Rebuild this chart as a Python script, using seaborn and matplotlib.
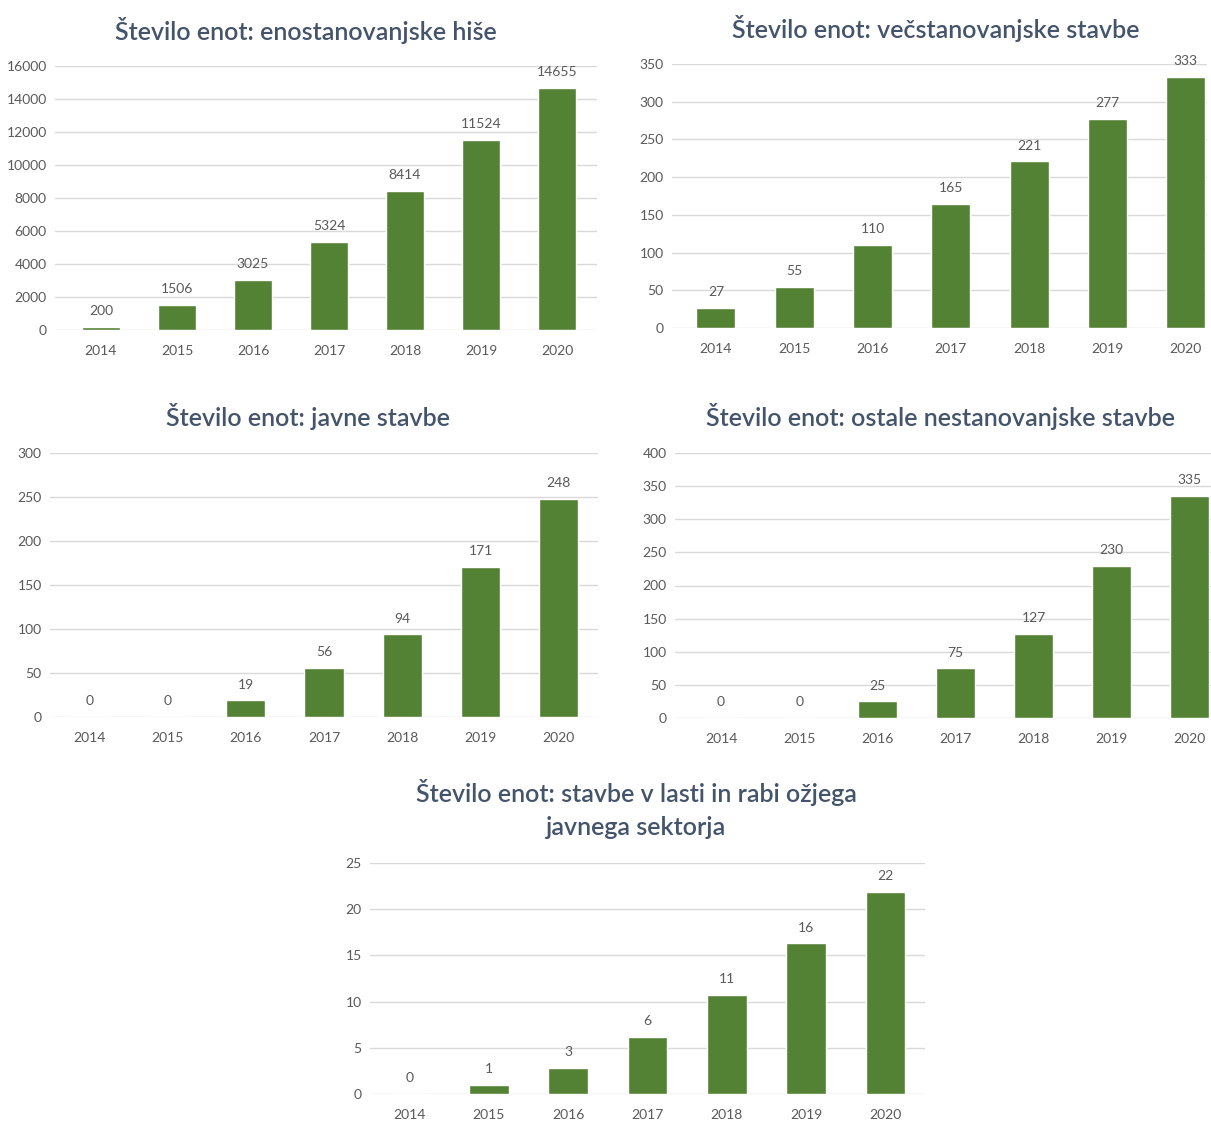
import pandas as pd
import matplotlib
matplotlib.use('Agg')
import matplotlib.pyplot as plt
import seaborn as sns

# podatki
leta = ['2014', '2015', '2016', '2017', '2018', '2019', '2020']

enostanovanjske = [200, 1506, 3025, 5324, 8414, 11524, 14655]
vecstanovanjske = [27, 55, 110, 165, 221, 277, 333]
javne = [0, 0, 19, 56, 94, 171, 248]
ostale = [0, 0, 25, 75, 127, 230, 335]
ozji_sektor = [0, 1.0, 2.8, 6.2, 10.7, 16.3, 21.9]

naslovi = [
    'Število enot: enostanovanjske hiše',
    'Število enot: večstanovanjske stavbe',
    'Število enot: javne stavbe',
    'Število enot: ostale nestanovanjske stavbe',
    'Število enot: stavbe v lasti in rabi ožjega\njavnega sektorja',
]

ZELENA = '#548235'
SIVA = '#595959'
NASLOV = '#44546A'
MREZA = '#D9D9D9'

W, H = 1211, 1122

sns.set_theme(style='white')
plt.rcParams['font.family'] = ['Lato', 'DejaVu Sans']

fig = plt.figure(figsize=(W / 100, H / 100), dpi=100)


def ax_px(x0, x1, y0, y1):
    # pretvorba pikslov v delež slike
    return fig.add_axes([x0 / W, 1 - y1 / H, (x1 - x0) / W, (y1 - y0) / H])


def narisi(ax, vrednosti, ymax, korak, xlim):
    df = pd.DataFrame({'leto': leta, 'st': vrednosti})
    sns.barplot(data=df, x='leto', y='st', color=ZELENA, width=0.5,
                saturation=1, ax=ax, zorder=3)
    ax.bar_label(ax.containers[0], labels=[f'{round(v)}' for v in vrednosti],
                 padding=7, fontsize=10, color=SIVA)
    ax.set_ylim(0, ymax)
    ax.set_xlim(*xlim)
    ax.set_yticks(range(0, ymax + 1, korak))
    ax.grid(axis='y', color=MREZA, linewidth=1, zorder=0)
    ax.grid(axis='x', visible=False)
    for s in ax.spines.values():
        s.set_visible(False)
    ax.tick_params(axis='both', length=0, labelsize=10, labelcolor=SIVA)
    ax.tick_params(axis='x', pad=11)
    ax.tick_params(axis='y', pad=6)
    ax.set_xlabel('')
    ax.set_ylabel('')
    ax.set_facecolor('white')


def naslov(x, y, besedilo, **kw):
    fig.text(x / W, 1 - y / H, besedilo, ha='center', va='center',
             fontsize=18, fontweight='semibold', color=NASLOV, **kw)


ax1 = ax_px(55, 597, 66, 330)
narisi(ax1, enostanovanjske, 16000, 2000, (-0.605, 6.526))
naslov(306, 30, naslovi[0])

ax2 = ax_px(672, 1207, 64, 328)
narisi(ax2, vecstanovanjske, 350, 50, (-0.56, 6.27))
naslov(936, 28, naslovi[1])

ax3 = ax_px(50, 598, 453, 717)
narisi(ax3, javne, 300, 50, (-0.5, 6.5))
naslov(308, 417, naslovi[2])

ax4 = ax_px(675, 1211, 453, 718)
narisi(ax4, ostale, 400, 50, (-0.59, 6.27))
naslov(940, 417, naslovi[3])

ax5 = ax_px(370, 925, 863, 1094)
narisi(ax5, ozji_sektor, 25, 5, (-0.5, 6.5))
naslov(636, 809, naslovi[4], linespacing=1.55)

fig.savefig('out.png', dpi=100, facecolor='white')
